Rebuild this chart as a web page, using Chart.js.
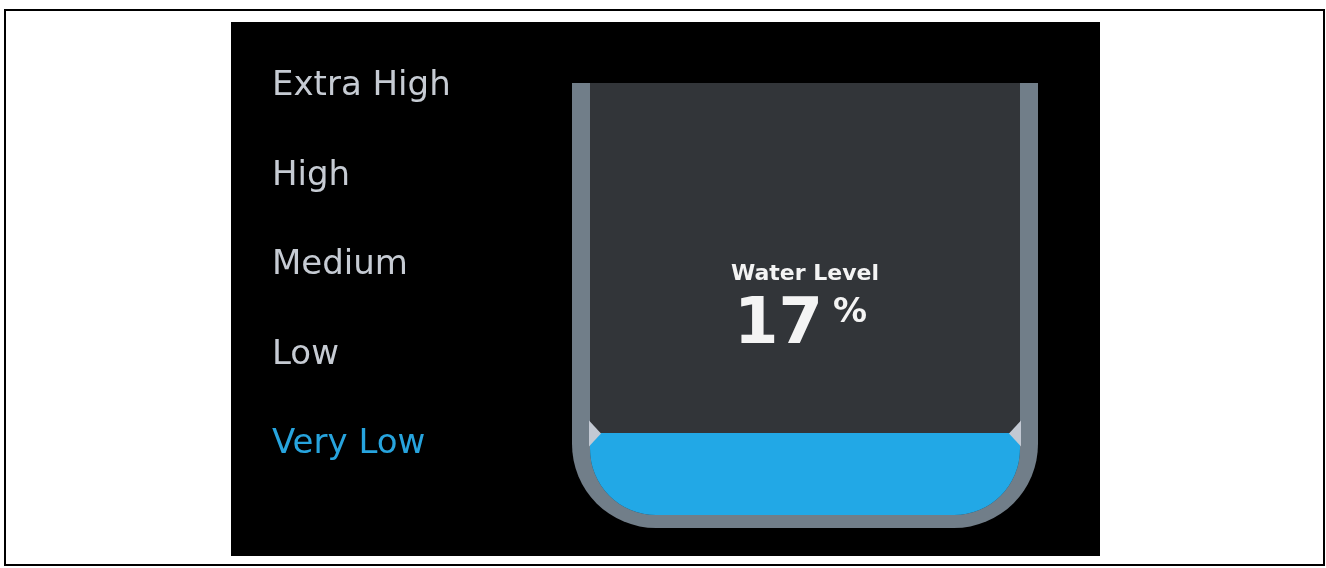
<!DOCTYPE html>
<html>
<head>
<meta charset="utf-8">
<script src="https://cdn.jsdelivr.net/npm/chart.js@4"></script>
<style>
  html, body { margin: 0; padding: 0; background: #fff; }
  body { width: 1326px; height: 568px; position: relative; overflow: hidden; }
  #frame { position: absolute; left: 4px; top: 9px; width: 1321px; height: 557px;
           box-sizing: border-box; border: 2px solid #000; }
  #panel { position: absolute; left: 231px; top: 22px; width: 869px; height: 534px; background: #000; }
  #tank { display: block; }
</style>
</head>
<body>
<div id="frame"></div>
<div id="panel"><canvas id="tank" width="869" height="534"></canvas></div>
<script>
// data
const seriesLabels = ["Water Level"];
const waterLevel = [17];
const levelNames = ["Extra High", "High", "Medium", "Low", "Very Low"];
const levelMins = [80, 60, 40, 20, 0];
const scaleMax = 90;

document.addEventListener("DOMContentLoaded", () => {
    const wallColor = "#717e89";
    const innerColor = "#323539";
    const waterColor = "#22a8e6";
    const markerColor = "#c3c9d3";
    const labelColor = "#c6cbd3";
    const activeColor = "#27a4de";

    function bottomRounded(ctx, l, t, r, b, rad) {
        ctx.beginPath();
        ctx.moveTo(l, t);
        ctx.lineTo(l, b - rad);
        ctx.arcTo(l, b, l + rad, b, rad);
        ctx.lineTo(r - rad, b);
        ctx.arcTo(r, b, r, b - rad, rad);
        ctx.lineTo(r, t);
        ctx.closePath();
    }

    const tankPlugin = {
        id: "tank",
        beforeDatasetsDraw(chart) {
            const { ctx, chartArea: a } = chart;
            ctx.save();
            // outer wall
            ctx.fillStyle = wallColor;
            bottomRounded(ctx, a.left - 18, a.top, a.right + 18, a.bottom + 13, 84);
            ctx.fill();
            // inner
            ctx.fillStyle = innerColor;
            bottomRounded(ctx, a.left, a.top, a.right, a.bottom, 66);
            ctx.fill();
            ctx.clip();
        },
        afterDatasetsDraw(chart) {
            const { ctx, chartArea: a, scales } = chart;
            ctx.restore();
            const value = chart.data.datasets[0].data[0];
            const yv = scales.y.getPixelForValue(value);

            // level markers
            ctx.save();
            ctx.fillStyle = markerColor;
            ctx.beginPath();
            ctx.moveTo(a.left - 1, yv - 13);
            ctx.lineTo(a.left + 11, yv);
            ctx.lineTo(a.left - 1, yv + 13);
            ctx.closePath();
            ctx.fill();
            ctx.beginPath();
            ctx.moveTo(a.right + 1, yv - 13);
            ctx.lineTo(a.right - 11, yv);
            ctx.lineTo(a.right + 1, yv + 13);
            ctx.closePath();
            ctx.fill();

            // level labels
            let active = levelMins.findIndex(m => value >= m);
            ctx.font = "34px 'DejaVu Sans'";
            ctx.textAlign = "left";
            ctx.textBaseline = "alphabetic";
            levelNames.forEach((name, i) => {
                ctx.fillStyle = i === active ? activeColor : labelColor;
                ctx.fillText(name, 41, 73 + i * 89.5);
            });

            // centre readout
            const cx = (a.left + a.right) / 2;
            ctx.fillStyle = "#f4f4f4";
            ctx.textAlign = "center";
            ctx.font = "bold 22px 'DejaVu Sans'";
            ctx.fillText(chart.data.labels[0], cx, 258);
            ctx.font = "bold 64px 'DejaVu Sans'";
            ctx.textAlign = "left";
            ctx.fillText(String(value), 503, 321);
            ctx.font = "bold 34px 'DejaVu Sans'";
            ctx.fillText("%", 602, 300);
            ctx.restore();
        }
    };

    new Chart(document.getElementById("tank").getContext("2d"), {
        type: "bar",
        data: {
            labels: seriesLabels,
            datasets: [{
                data: waterLevel,
                backgroundColor: waterColor,
                borderWidth: 0,
                categoryPercentage: 1,
                barPercentage: 1
            }]
        },
        options: {
            responsive: false,
            animation: false,
            events: [],
            layout: { padding: { left: 359, right: 80, top: 61, bottom: 41 } },
            scales: {
                x: { display: false },
                y: { display: false, min: 0, max: scaleMax }
            },
            plugins: {
                legend: { display: false },
                tooltip: { enabled: false }
            }
        },
        plugins: [tankPlugin]
    });
});
</script>
</body>
</html>
